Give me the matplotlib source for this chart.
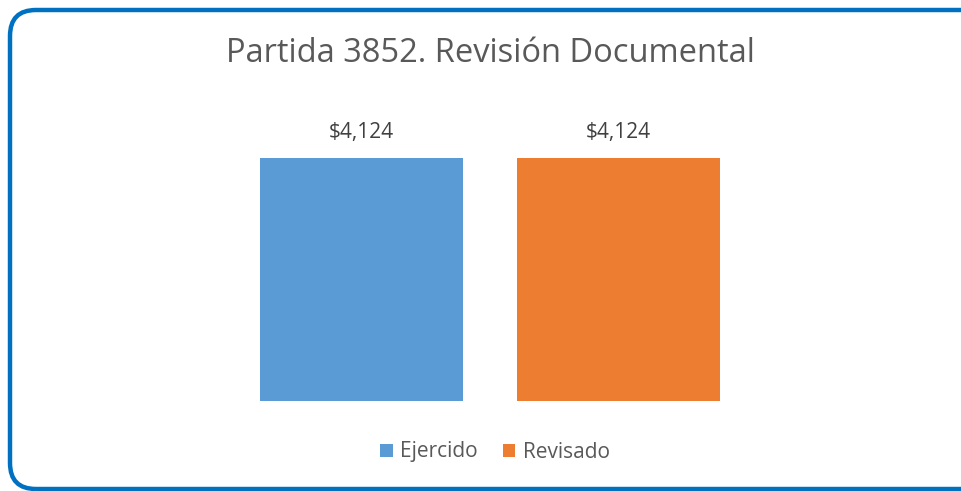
import matplotlib.pyplot as plt
from matplotlib.patches import FancyBboxPatch
from matplotlib.transforms import IdentityTransform

categorias = ["Ejercido", "Revisado"]
valores = [4124, 4124]
colores = ["#5B9BD5", "#ED7D31"]
titulo = "Partida 3852. Revisión Documental"

W, H = 962, 491
plt.rcParams['font.family'] = ['Open Sans', 'DejaVu Sans']
fig = plt.figure(figsize=(W / 100, H / 100), dpi=100)

# área del gráfico en pixeles (desde arriba)
x0, x1 = 260, 720
y_top, y_bot = 106, 401
ax = fig.add_axes([x0 / W, (H - y_bot) / H, (x1 - x0) / W, (y_bot - y_top) / H])

ancho = 0.79
barras = ax.bar(range(len(categorias)), valores, width=ancho, color=colores, label=categorias)
ax.set_xlim(-ancho / 2, len(categorias) - 1 + ancho / 2)
ax.set_ylim(0, 5000)
ax.axis("off")

for b, v in zip(barras, valores):
    ax.text(b.get_x() + b.get_width() / 2, v + 430, f"${v:,.0f}", ha="center", va="center",
            fontsize=15, color="#404040")

fig.text(490 / W, 1 - 53 / H, titulo, ha="center", va="center", fontsize=23.5, color="#595959")

leg = fig.legend(barras, categorias, loc="center", bbox_to_anchor=(495 / W, 1 - 452 / H), ncol=2,
                 frameon=False, fontsize=15, handlelength=0.6, handleheight=0.6,
                 handletextpad=0.35, columnspacing=1.2, labelcolor="#595959")

# borde redondeado (el lado derecho queda fuera de la imagen)
borde = FancyBboxPatch((10, 2), 992, 479, boxstyle="round,pad=0,rounding_size=26",
                       transform=IdentityTransform(), fill=False, edgecolor="#0070C0", linewidth=3.2)
fig.patches.append(borde)

fig.savefig("out.png", dpi=100)
